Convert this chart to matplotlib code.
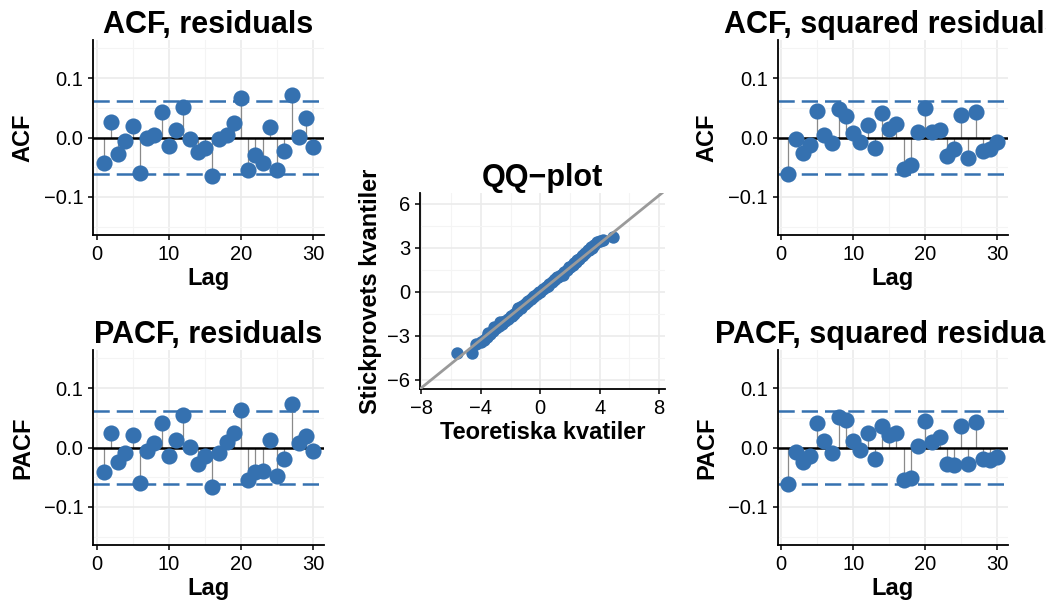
import matplotlib
matplotlib.use("Agg")
import matplotlib.pyplot as plt
import numpy as np

plt.rcParams['font.family'] = ['Liberation Sans', 'DejaVu Sans']

# Lags och (P)ACF-värden
lags = list(range(1, 31))

acf_res = [-0.043, 0.026, -0.027, -0.006, 0.019, -0.060, 0.000, 0.004, 0.043, -0.015,
           0.013, 0.052, -0.002, -0.024, -0.017, -0.064, -0.002, 0.004, 0.025, 0.066,
           -0.054, -0.029, -0.043, 0.017, -0.055, -0.022, 0.071, 0.001, 0.033, -0.016]

pacf_res = [-0.042, 0.025, -0.025, -0.010, 0.021, -0.059, -0.006, 0.008, 0.042, -0.014,
            0.012, 0.054, 0.001, -0.028, -0.014, -0.066, -0.010, 0.010, 0.025, 0.063,
            -0.055, -0.041, -0.040, 0.012, -0.048, -0.020, 0.073, 0.007, 0.019, -0.006]

acf_sq = [-0.061, -0.003, -0.026, -0.013, 0.044, 0.005, -0.010, 0.048, 0.037, 0.007,
          -0.008, 0.021, -0.018, 0.042, 0.015, 0.023, -0.053, -0.046, 0.010, 0.049,
          0.009, 0.013, -0.031, -0.019, 0.038, -0.035, 0.043, -0.022, -0.019, -0.008]

pacf_sq = [-0.061, -0.007, -0.024, -0.015, 0.042, 0.011, -0.009, 0.051, 0.046, 0.011,
           -0.004, 0.024, -0.019, 0.037, 0.021, 0.025, -0.055, -0.052, 0.002, 0.044,
           0.010, 0.018, -0.028, -0.030, 0.036, -0.027, 0.043, -0.019, -0.021, -0.016]

konf = 0.062  # konfidensgräns

# QQ-plot: teoretiska kvantiler och stickprovets kvantiler
qq_teo = [-5.6, -4.6, -4.3, -4.0, -3.8, -3.6, -3.4, -3.2, -3.0, -2.8, -2.6, -2.4, -2.2,
          -2.0, -1.8, -1.6, -1.4, -1.2, -1.0, -0.8, -0.6, -0.4, -0.2, 0.0, 0.2, 0.4,
          0.6, 0.8, 1.0, 1.2, 1.4, 1.6, 1.8, 2.0, 2.2, 2.4, 2.6, 2.8, 3.0, 3.2, 3.4,
          3.6, 3.8, 4.0, 4.2, 4.9,
          -3.5, -2.5, -1.5, -0.5, 0.5, 1.5, 2.5, 3.3, -3.1, -1.9, -0.9, 0.9, 1.9, 2.9,
          -2.7, -1.3, -0.1, 1.1, 2.3, 3.5]
qq_sam = [-4.2, -4.2, -3.6, -3.45, -3.3, -3.1, -2.9, -2.7, -2.5, -2.35, -2.2, -2.0, -1.85,
          -1.65, -1.5, -1.3, -1.15, -1.0, -0.82, -0.66, -0.5, -0.33, -0.17, 0.0, 0.17, 0.33,
          0.5, 0.66, 0.83, 1.0, 1.16, 1.33, 1.5, 1.67, 1.83, 2.0, 2.2, 2.4, 2.65, 2.85, 3.05,
          3.2, 3.35, 3.45, 3.5, 3.75,
          -2.85, -2.05, -1.15, -0.35, 0.35, 1.15, 2.15, 2.85, -2.45, -1.65, -0.7, 0.8, 1.65, 2.5,
          -2.1, -1.15, 0.0, 0.97, 1.95, 3.0]
qq_lutning = 0.82

blue = '#3571b0'
grid_major = '#ebebeb'
grid_minor = '#f4f4f4'

fig = plt.figure(figsize=(10.46, 6.07), dpi=100)


def stil(ax):
    ax.set_facecolor('white')
    for s in ['top', 'right']:
        ax.spines[s].set_visible(False)
    for s in ['left', 'bottom']:
        ax.spines[s].set_linewidth(1.3)
        ax.spines[s].set_color('black')
    ax.grid(True, which='major', color=grid_major, linewidth=1.2, zorder=0)
    ax.grid(True, which='minor', color=grid_minor, linewidth=0.8, zorder=0)
    ax.set_axisbelow(True)
    ax.tick_params(which='major', length=3.5, width=1.1, labelsize=14.5, pad=3.5, colors='black')
    ax.tick_params(which='minor', length=0)


def acf_panel(rect, varden, titel, ylabel):
    ax = fig.add_axes(rect)
    stil(ax)
    ax.axhline(konf, color=blue, linestyle=(0, (6.5, 2.8)), linewidth=1.8, zorder=2)
    ax.axhline(-konf, color=blue, linestyle=(0, (6.5, 2.8)), linewidth=1.8, zorder=2)
    ax.vlines(lags, 0, varden, color='#8a8a8a', linewidth=0.9, zorder=3)
    ax.axhline(0, color='black', linewidth=1.8, zorder=4)
    ax.scatter(lags, varden, s=135, color=blue, zorder=5, linewidths=0)
    ax.set_xlim(-0.5, 31.5)
    ax.set_ylim(-0.164, 0.164)
    ax.set_xticks([0, 10, 20, 30])
    ax.set_xticks([5, 15, 25], minor=True)
    ax.set_yticks([-0.1, 0.0, 0.1])
    ax.set_yticks([-0.15, -0.05, 0.05, 0.15], minor=True)
    ax.set_yticklabels(['\u22120.1', '0.0', '0.1'])
    ax.set_title(titel, fontsize=22, fontweight='bold', pad=5)
    ax.set_xlabel('Lag', fontsize=17, fontweight='bold', labelpad=2)
    ax.set_ylabel(ylabel, fontsize=17, fontweight='bold', labelpad=7)
    return ax


acf_panel([0.0889, 0.6128, 0.2209, 0.3212], acf_res, 'ACF, residuals', 'ACF')
acf_panel([0.0889, 0.1021, 0.2209, 0.3213], pacf_res, 'PACF, residuals', 'PACF')
acf_panel([0.7435, 0.6128, 0.2202, 0.3212], acf_sq, 'ACF, squared residuals', 'ACF')
acf_panel([0.7435, 0.1021, 0.2202, 0.3213], pacf_sq, 'PACF, squared residuals', 'PACF')

# QQ-plot
ax = fig.add_axes([0.4015, 0.359, 0.2343, 0.323])
stil(ax)
ax.scatter(qq_teo, qq_sam, s=80, color=blue, zorder=3, linewidths=0)
ax.axline((0, 0), slope=qq_lutning, color='#9a9a9a', linewidth=2, zorder=4)
ax.set_xlim(-8.1, 8.4)
ax.set_ylim(-6.65, 6.72)
ax.set_xticks([-8, -4, 0, 4, 8])
ax.set_xticks([-6, -2, 2, 6], minor=True)
ax.set_yticks([-6, -3, 0, 3, 6])
ax.set_yticks([-4.5, -1.5, 1.5, 4.5], minor=True)
ax.set_title('QQ\u2212plot', fontsize=22, fontweight='bold', pad=5)
ax.set_xlabel('Teoretiska kvatiler', fontsize=17, fontweight='bold', labelpad=2)
ax.set_ylabel('Stickprovets kvantiler', fontsize=17, fontweight='bold', labelpad=4)

fig.savefig('out.png', dpi=100)
